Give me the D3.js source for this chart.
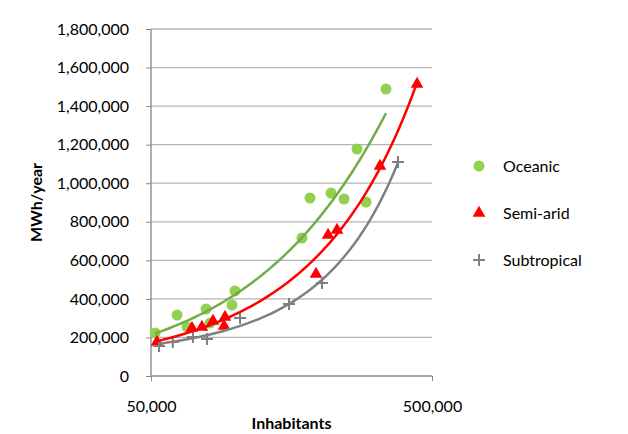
<!DOCTYPE html>
<html>
<head>
<meta charset="utf-8">
<script src="https://cdn.jsdelivr.net/npm/d3@7"></script>
<style>
  body { margin: 0; background: #fff; }
  text { font-family: Lato, "Open Sans", sans-serif; fill: #000; }
</style>
</head>
<body>
<svg width="628" height="434"></svg>
<script>
// inhabitants / MWh per year
var oceanicX = [51700, 61900, 67200, 78500, 81100, 97100, 99500, 172300, 184000, 218600, 243100, 270500, 291100, 343000]
var oceanicY = [223000, 316000, 254000, 347600, 275000, 368300, 441000, 715800, 923300, 949300, 918100, 1177500, 902600, 1488700]
var semiaridX = [52500, 69900, 75900, 83100, 91700, 91000, 193300, 213300, 229600, 326500, 442300]
var semiaridY = [176400, 249000, 254000, 285300, 306000, 259400, 529100, 731400, 757300, 1089300, 1514700]
var subtropX = [53400, 59800, 70500, 79100, 103700, 154900, 203000, 378400]
var subtropY = [155600, 176400, 202300, 191900, 300900, 373500, 482400, 1110000]

var seriesNames = ["Oceanic", "Semi-arid", "Subtropical"]
var yTicks = [0, 200000, 400000, 600000, 800000, 1000000, 1200000, 1400000, 1600000, 1800000]
var xTicks = [50000, 500000]

var svg = d3.select("svg")
var plotL = 151, plotR = 432, plotT = 29, plotB = 376

var x = d3.scaleLog().domain([50000, 500000]).range([plotL, plotR])
var y = d3.scaleLinear().domain([0, 1800000]).range([plotB, plotT])
var fmt = d3.format(",")

//gridlines
svg.append("g").selectAll("line").data(yTicks.slice(1)).join("line")
    .attr("x1", plotL).attr("x2", plotR)
    .attr("y1", function (d) { return y(d) }).attr("y2", function (d) { return y(d) })
    .attr("stroke", "#b3b3b3").attr("stroke-width", 1.3)

//axes
var yAxis = svg.append("g").attr("transform", "translate(" + plotL + ",0)")
    .call(d3.axisLeft(y).tickValues(yTicks).tickSize(5).tickPadding(17).tickFormat(fmt))
var xAxis = svg.append("g").attr("transform", "translate(0," + plotB + ")")
    .call(d3.axisBottom(x).tickValues(xTicks).tickSize(5).tickPadding(20).tickFormat(fmt))
svg.selectAll(".domain").attr("stroke", "#868686").attr("stroke-width", 1.3)
svg.selectAll(".tick line").attr("stroke", "#868686")
svg.selectAll(".tick text").style("font-size", "16px")
yAxis.select(".domain").attr("d", "M0," + plotB + "V" + plotT)
xAxis.select(".domain").attr("d", "M" + plotL + ",0H" + plotR)

//axis titles
svg.append("text").attr("x", (plotL + plotR) / 2).attr("y", 429)
    .attr("text-anchor", "middle").style("font", "bold 16px Lato, sans-serif").text("Inhabitants")
svg.append("text").attr("transform", "translate(42," + (plotT + plotB) / 2 + ") rotate(-90)")
    .attr("text-anchor", "middle").style("font", "bold 16px Lato, sans-serif").text("MWh/year")

//2nd order polynomial trendline, least squares on the points
function polyFit(xs, ys) {
    var u = xs.map(function (v) { return v / 1e5 })
    var S = [0, 0, 0, 0, 0], T = [0, 0, 0]
    u.forEach(function (v, i) {
        for (var k = 0; k < 5; k++) S[k] += Math.pow(v, k)
        for (var k = 0; k < 3; k++) T[k] += Math.pow(v, k) * ys[i]
    })
    var M = [[S[0], S[1], S[2], T[0]], [S[1], S[2], S[3], T[1]], [S[2], S[3], S[4], T[2]]]
    for (var c = 0; c < 3; c++) {
        for (var r = c + 1; r < 3; r++) {
            var f = M[r][c] / M[c][c]
            for (var k = c; k < 4; k++) M[r][k] -= f * M[c][k]
        }
    }
    var coef = [0, 0, 0]
    for (var r = 2; r >= 0; r--) {
        var s = M[r][3]
        for (var k = r + 1; k < 3; k++) s -= M[r][k] * coef[k]
        coef[r] = s / M[r][r]
    }
    var lo = d3.min(xs), hi = d3.max(xs)
    return d3.range(0, 61).map(function (i) {
        var xv = lo * Math.pow(hi / lo, i / 60), v = xv / 1e5
        return [xv, coef[0] + coef[1] * v + coef[2] * v * v]
    })
}
var line = d3.line().x(function (d) { return x(d[0]) }).y(function (d) { return y(d[1]) })

var series = [
    { xs: oceanicX, ys: oceanicY, marker: "#92d050", trend: "#72ac48" },
    { xs: semiaridX, ys: semiaridY, marker: "#ff0000", trend: "#ff0000" },
    { xs: subtropX, ys: subtropY, marker: "#7f7f7f", trend: "#808080" }
]

function drawMarker(g, i, color) {
    if (i == 0) g.append("circle").attr("r", 5.5).attr("fill", color)
    else if (i == 1) g.append("path").attr("d", d3.symbol(d3.symbolTriangle, 70)()).attr("fill", color)
    else g.append("path").attr("d", "M-6,0H6M0,-6V6").attr("stroke", color).attr("stroke-width", 2)
}

series.forEach(function (s, i) {
    var pts = s.xs.map(function (v, j) { return [v, s.ys[j]] })
    pts.forEach(function (p) {
        var g = svg.append("g").attr("transform", "translate(" + x(p[0]) + "," + y(p[1]) + ")")
        drawMarker(g, i, s.marker)
    })
})
series.forEach(function (s) {
    svg.append("path").datum(polyFit(s.xs, s.ys)).attr("d", line)
        .attr("fill", "none").attr("stroke", s.trend).attr("stroke-width", 2.5)
})

//legend
var legend = svg.append("g")
seriesNames.forEach(function (name, i) {
    var g = legend.append("g").attr("transform", "translate(479," + (166 + i * 47) + ")")
    drawMarker(g, i, series[i].marker)
    g.append("text").attr("x", 24).attr("y", 6).style("font-size", "16px").text(name)
})
</script>
</body>
</html>
